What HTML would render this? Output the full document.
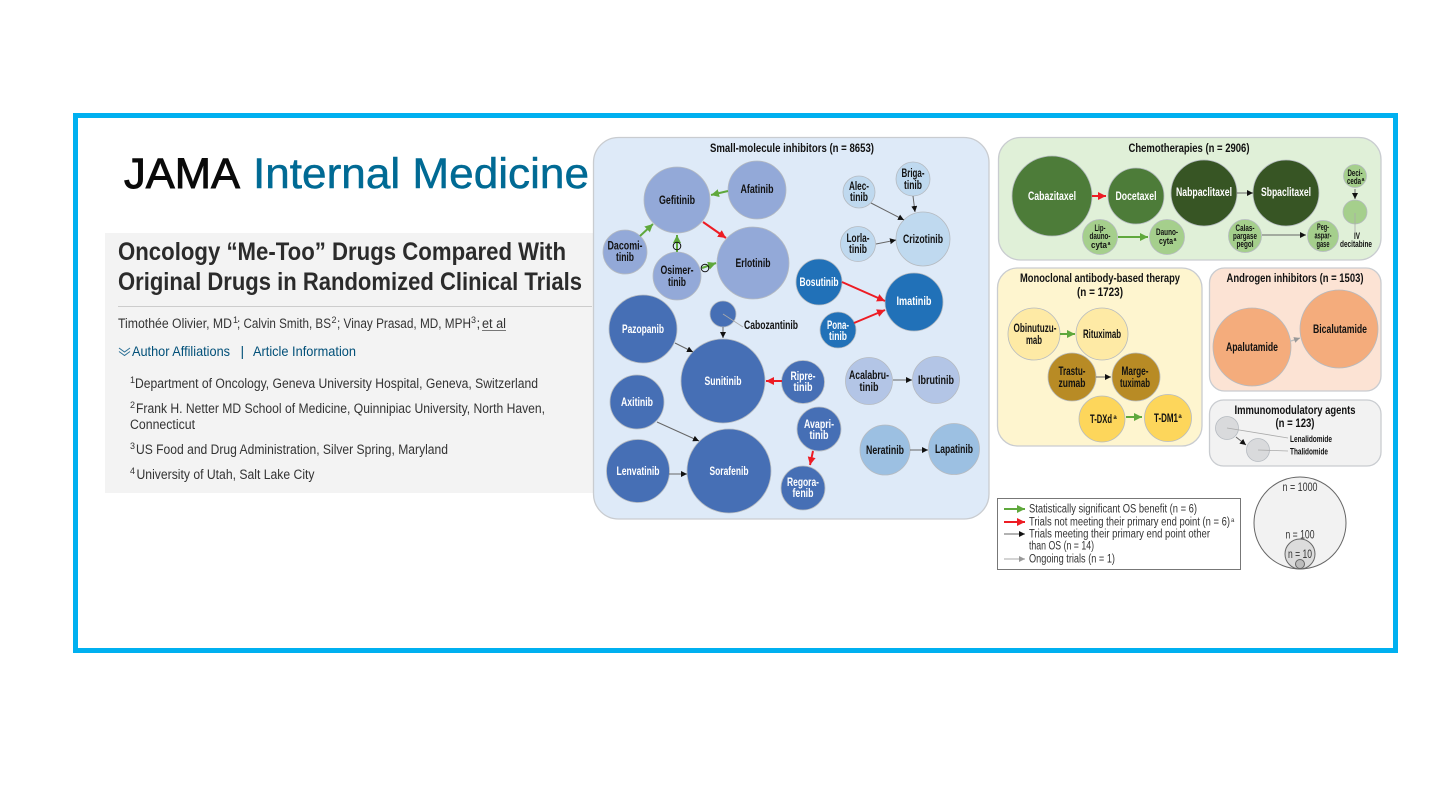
<!DOCTYPE html>
<html lang="en"><head><meta charset="utf-8"><title>Oncology Me-Too Drugs</title>
<style>
html,body{margin:0;padding:0;background:#fff;width:1456px;height:794px;overflow:hidden}
svg{display:block;font-family:"Liberation Sans",sans-serif}
.m{text-anchor:middle;font-weight:700;font-size:11.5px;fill:#111}
.w{text-anchor:middle;font-weight:700;font-size:11.5px;fill:#fff}
.s{text-anchor:middle;font-weight:700;font-size:9px;fill:#111}
.h{text-anchor:middle;font-weight:700;font-size:12px;fill:#111}
.l{font-size:11.5px;fill:#333}
.t{font-weight:700;font-size:25px;fill:#2b2b2b}
.b{font-size:13.500px;fill:#333}
.a{font-size:14px;fill:#004f78}
.p{stroke:#c9ccd0;stroke-width:1.3}
circle{stroke:#b5bac0;stroke-width:.8}
.g{stroke:#5fa83c;stroke-width:2;fill:none}
.r{stroke:#ed1c24;stroke-width:2;fill:none}
.k{stroke:#666;stroke-width:1;fill:none}
.y{stroke:#bbb;stroke-width:1.2;fill:none}
.ln{stroke:#aaa;stroke-width:.8;fill:none}
</style></head><body>
<svg width="1456" height="794" viewBox="0 0 1456 794" xmlns="http://www.w3.org/2000/svg">
<defs>
<marker id="G" markerUnits="userSpaceOnUse" markerWidth="10" markerHeight="10" refX="8" refY="4" orient="auto"><path d="M0 0L8 4L0 8z" fill="#5fa83c"/></marker>
<marker id="R" markerUnits="userSpaceOnUse" markerWidth="10" markerHeight="10" refX="8" refY="4" orient="auto"><path d="M0 0L8 4L0 8z" fill="#ed1c24"/></marker>
<marker id="K" markerUnits="userSpaceOnUse" markerWidth="10" markerHeight="10" refX="6" refY="3" orient="auto"><path d="M0 0L6 3L0 6z" fill="#111"/></marker>
<marker id="Y" markerUnits="userSpaceOnUse" markerWidth="10" markerHeight="10" refX="6" refY="3" orient="auto"><path d="M0 0L6 3L0 6z" fill="#999"/></marker>
</defs>
<rect width="1456" height="794" fill="#fff"/>
<rect x="75.5" y="115.5" width="1320" height="535" fill="#fff" stroke="#00b0f0" stroke-width="5"/>

<!-- left article -->
<text x="124" y="188" font-size="43" fill="#0a0a0a" stroke="#0a0a0a" stroke-width=".9" textLength="116" lengthAdjust="spacingAndGlyphs">JAMA</text>
<text x="253" y="188" font-size="43" fill="#006a94" stroke="#006a94" stroke-width=".5" textLength="336" lengthAdjust="spacingAndGlyphs">Internal Medicine</text>
<rect x="105" y="233" width="488" height="260" fill="#f3f3f3"/>
<text class="t" x="118" y="260" textLength="448" lengthAdjust="spacingAndGlyphs">Oncology “Me-Too” Drugs Compared With</text>
<text class="t" x="118" y="290" textLength="464" lengthAdjust="spacingAndGlyphs">Original Drugs in Randomized Clinical Trials</text>
<line x1="118" y1="306.5" x2="592" y2="306.5" stroke="#ccc"/>
<text class="b" x="118" y="328" textLength="114" lengthAdjust="spacingAndGlyphs">Timothée Olivier, MD</text>
<text class="b" x="233" y="323" style="font-size:9px">1</text>
<text class="b" x="237" y="328" textLength="94" lengthAdjust="spacingAndGlyphs">; Calvin Smith, BS</text>
<text class="b" x="331.500" y="323" style="font-size:9px">2</text>
<text class="b" x="337" y="328" textLength="134" lengthAdjust="spacingAndGlyphs">; Vinay Prasad, MD, MPH</text>
<text class="b" x="471" y="323" style="font-size:9px">3</text>
<text class="b" x="476.500" y="328">;</text>
<text class="b" x="482" y="328" textLength="24" lengthAdjust="spacingAndGlyphs">et al</text>
<line x1="482" y1="330.500" x2="506" y2="330.500" stroke="#777"/>
<path d="M119 348l5.500 4l5.500-4M119 351.500l5.500 4l5.500-4" fill="none" stroke="#2a6f95" stroke-width="1"/>
<text class="a" x="132" y="356" textLength="98" lengthAdjust="spacingAndGlyphs">Author Affiliations</text>
<text class="a" x="240.500" y="356">|</text>
<text class="a" x="253" y="356" textLength="103" lengthAdjust="spacingAndGlyphs">Article Information</text>
<text class="b" x="130" y="383" style="font-size:9px">1</text>
<text class="b" x="135" y="388" textLength="403" lengthAdjust="spacingAndGlyphs">Department of Oncology, Geneva University Hospital, Geneva, Switzerland</text>
<text class="b" x="130" y="408" style="font-size:9px">2</text>
<text class="b" x="136" y="413" textLength="409" lengthAdjust="spacingAndGlyphs">Frank H. Netter MD School of Medicine, Quinnipiac University, North Haven,</text>
<text class="b" x="130" y="429" textLength="65" lengthAdjust="spacingAndGlyphs">Connecticut</text>
<text class="b" x="130" y="449" style="font-size:9px">3</text>
<text class="b" x="136" y="454" textLength="312" lengthAdjust="spacingAndGlyphs">US Food and Drug Administration, Silver Spring, Maryland</text>
<text class="b" x="130" y="474" style="font-size:9px">4</text>
<text class="b" x="136.500" y="479" textLength="178" lengthAdjust="spacingAndGlyphs">University of Utah, Salt Lake City</text>

<!-- panels -->
<rect class="p" x="593.500" y="137.500" width="395.500" height="381.500" rx="25" fill="#deeaf8"/>
<rect class="p" x="998.500" y="137.500" width="382.500" height="122.500" rx="22" fill="#e0f0d8"/>
<rect class="p" x="997.500" y="268" width="204.500" height="178" rx="20" fill="#fef5cf"/>
<rect class="p" x="1209.500" y="268" width="171.500" height="123" rx="15" fill="#fce3d4"/>
<rect class="p" x="1209.500" y="400" width="171.500" height="66" rx="14" fill="#f2f2f2"/>

<text class="h" x="792" y="152" textLength="164" lengthAdjust="spacingAndGlyphs">Small-molecule inhibitors (n = 8653)</text>
<text class="h" x="1189" y="152" textLength="121" lengthAdjust="spacingAndGlyphs">Chemotherapies (n = 2906)</text>
<text class="h" x="1100" y="282" textLength="160" lengthAdjust="spacingAndGlyphs">Monoclonal antibody-based therapy</text>
<text class="h" x="1100" y="296" textLength="46" lengthAdjust="spacingAndGlyphs">(n = 1723)</text>
<text class="h" x="1295" y="282" textLength="137" lengthAdjust="spacingAndGlyphs">Androgen inhibitors (n = 1503)</text>
<text class="h" x="1295" y="414" textLength="121" lengthAdjust="spacingAndGlyphs">Immunomodulatory agents</text>
<text class="h" x="1295" y="427" textLength="39" lengthAdjust="spacingAndGlyphs">(n = 123)</text>

<!-- circles -->
<g fill="#93a9d8">
<circle cx="677" cy="200" r="33"/><circle cx="757" cy="190" r="29"/><circle cx="625" cy="252" r="22"/><circle cx="677" cy="276" r="24"/><circle cx="753" cy="263" r="36"/>
</g>
<g fill="#466fb5">
<circle cx="723" cy="314" r="13"/><circle cx="643" cy="329" r="34"/><circle cx="723" cy="381" r="42"/><circle cx="637" cy="402" r="27"/><circle cx="638" cy="471" r="31.500"/><circle cx="729" cy="471" r="42"/><circle cx="803" cy="382" r="21.500"/><circle cx="819" cy="429" r="22"/><circle cx="803" cy="488" r="22"/>
</g>
<g fill="#bfd9ef">
<circle cx="913" cy="179" r="17"/><circle cx="859" cy="192" r="16"/><circle cx="858" cy="244" r="17.500"/><circle cx="923" cy="239" r="27"/>
</g>
<g fill="#2171b8">
<circle cx="819" cy="282" r="23"/><circle cx="914" cy="302" r="29"/><circle cx="838" cy="330" r="18"/>
</g>
<g fill="#b3c5e6"><circle cx="869" cy="381" r="23.500"/><circle cx="936" cy="380" r="23.500"/></g>
<g fill="#9cc0e2"><circle cx="885" cy="450" r="25"/><circle cx="954" cy="449" r="25.500"/></g>
<g fill="#4d7c39"><circle cx="1052" cy="196" r="40"/><circle cx="1136" cy="196" r="28"/></g>
<g fill="#375524"><circle cx="1204" cy="193" r="33"/><circle cx="1286" cy="193" r="33"/></g>
<g fill="#a5cf8c"><circle cx="1100" cy="237" r="17.500"/><circle cx="1167" cy="237" r="17.500"/><circle cx="1245" cy="236" r="16.500"/><circle cx="1323" cy="236" r="15.500"/><circle cx="1355" cy="176" r="11.500"/><circle cx="1355" cy="212" r="12"/></g>
<g fill="#feeaa5"><circle cx="1034" cy="334" r="26"/><circle cx="1102" cy="334" r="26"/></g>
<g fill="#b88b25"><circle cx="1072" cy="377" r="24"/><circle cx="1136" cy="377" r="24"/></g>
<g fill="#fdd65b"><circle cx="1102" cy="419" r="23"/><circle cx="1168" cy="418" r="23.500"/></g>
<g fill="#f4ac7c"><circle cx="1252" cy="347" r="39"/><circle cx="1339" cy="329" r="39"/></g>
<g fill="#d9dadc"><circle cx="1227" cy="428" r="11.500"/><circle cx="1258" cy="450" r="11.500"/></g>
<circle cx="1300" cy="523" r="46" style="fill:#f2f2f2;stroke:#666;stroke-width:1"/>
<circle cx="1300" cy="554" r="15" style="fill:#dcdcdc;stroke:#666;stroke-width:1"/>
<circle cx="1300" cy="564" r="4.500" style="fill:#bdbdbd;stroke:#666;stroke-width:1"/>

<!-- connectors -->
<line class="g" x1="728" y1="191" x2="711" y2="195" marker-end="url(#G)"/>
<line class="g" x1="640" y1="236" x2="653" y2="224" marker-end="url(#G)"/>
<line class="r" x1="703" y1="222" x2="726" y2="238" marker-end="url(#R)"/>
<line class="g" x1="677" y1="252" x2="677" y2="235" marker-end="url(#G)"/>
<line class="g" x1="702" y1="268" x2="716" y2="263" marker-end="url(#G)"/>
<g fill="none" stroke="#111" stroke-width="1"><ellipse cx="677" cy="246" rx="3.800" ry="3.800"/><ellipse cx="705" cy="268" rx="3.800" ry="3.800"/></g>
<line class="k" x1="723" y1="327" x2="723" y2="338" marker-end="url(#K)"/>
<line class="ln" x1="723" y1="314" x2="743" y2="327"/>
<line class="k" x1="871" y1="203" x2="904" y2="220" marker-end="url(#K)"/>
<line class="k" x1="913" y1="196" x2="915" y2="212" marker-end="url(#K)"/>
<line class="k" x1="876" y1="244" x2="896" y2="240" marker-end="url(#K)"/>
<line class="r" x1="842" y1="282" x2="885" y2="301" marker-end="url(#R)"/>
<line class="r" x1="854" y1="323" x2="885" y2="310" marker-end="url(#R)"/>
<line class="k" x1="675" y1="343" x2="693" y2="352" marker-end="url(#K)"/>
<line class="k" x1="657" y1="422" x2="699" y2="441" marker-end="url(#K)"/>
<line class="k" x1="669" y1="474" x2="687" y2="474" marker-end="url(#K)"/>
<line class="r" x1="782" y1="381" x2="766" y2="381" marker-end="url(#R)"/>
<line class="r" x1="813" y1="451" x2="810" y2="465" marker-end="url(#R)"/>
<line class="k" x1="893" y1="380" x2="912" y2="380" marker-end="url(#K)"/>
<line class="k" x1="910" y1="450" x2="928" y2="450" marker-end="url(#K)"/>
<line class="r" x1="1092" y1="196" x2="1106" y2="196" marker-end="url(#R)"/>
<line class="k" x1="1237" y1="193" x2="1253" y2="193" marker-end="url(#K)"/>
<line class="g" x1="1118" y1="237" x2="1148" y2="237" marker-end="url(#G)"/>
<line class="k" x1="1262" y1="235" x2="1306" y2="235" marker-end="url(#K)"/>
<line class="k" x1="1355" y1="189" x2="1355" y2="199" marker-end="url(#K)"/>
<line class="ln" x1="1355" y1="213" x2="1355" y2="232"/>
<line class="g" x1="1060" y1="334" x2="1075" y2="334" marker-end="url(#G)"/>
<line class="k" x1="1096" y1="377" x2="1111" y2="377" marker-end="url(#K)"/>
<line class="g" x1="1126" y1="417" x2="1142" y2="417" marker-end="url(#G)"/>
<line class="y" x1="1291" y1="341" x2="1300" y2="338" marker-end="url(#Y)"/>
<line class="k" x1="1236" y1="437" x2="1246" y2="445" marker-end="url(#K)"/>
<line class="ln" x1="1227" y1="428" x2="1288" y2="438"/>
<line class="ln" x1="1258" y1="450" x2="1288" y2="451"/>

<!-- labels -->
<text class="m" x="677" y="204" textLength="36" lengthAdjust="spacingAndGlyphs">Gefitinib</text>
<text class="m" x="757" y="193" textLength="33" lengthAdjust="spacingAndGlyphs">Afatinib</text>
<text class="m" x="625" y="249.500" textLength="35" lengthAdjust="spacingAndGlyphs">Dacomi-</text>
<text class="m" x="625" y="261" textLength="18" lengthAdjust="spacingAndGlyphs">tinib</text>
<text class="m" x="677" y="274" textLength="33" lengthAdjust="spacingAndGlyphs">Osimer-</text>
<text class="m" x="677" y="286" textLength="18" lengthAdjust="spacingAndGlyphs">tinib</text>
<text class="m" x="753" y="267" textLength="35" lengthAdjust="spacingAndGlyphs">Erlotinib</text>
<text class="m" x="771" y="329" textLength="54" lengthAdjust="spacingAndGlyphs">Cabozantinib</text>
<text class="m" x="913" y="177" textLength="23" lengthAdjust="spacingAndGlyphs">Briga-</text>
<text class="m" x="913" y="189" textLength="18" lengthAdjust="spacingAndGlyphs">tinib</text>
<text class="m" x="859" y="190" textLength="20" lengthAdjust="spacingAndGlyphs">Alec-</text>
<text class="m" x="859" y="201" textLength="18" lengthAdjust="spacingAndGlyphs">tinib</text>
<text class="m" x="858" y="242" textLength="23" lengthAdjust="spacingAndGlyphs">Lorla-</text>
<text class="m" x="858" y="253" textLength="18" lengthAdjust="spacingAndGlyphs">tinib</text>
<text class="m" x="923" y="243" textLength="40" lengthAdjust="spacingAndGlyphs">Crizotinib</text>
<text class="w" x="819" y="286" textLength="39" lengthAdjust="spacingAndGlyphs">Bosutinib</text>
<text class="w" x="914" y="305" textLength="35" lengthAdjust="spacingAndGlyphs">Imatinib</text>
<text class="w" x="838" y="329" textLength="22" lengthAdjust="spacingAndGlyphs">Pona-</text>
<text class="w" x="838" y="340" textLength="18" lengthAdjust="spacingAndGlyphs">tinib</text>
<text class="w" x="643" y="333" textLength="42" lengthAdjust="spacingAndGlyphs">Pazopanib</text>
<text class="w" x="723" y="385" textLength="37" lengthAdjust="spacingAndGlyphs">Sunitinib</text>
<text class="w" x="637" y="406" textLength="32" lengthAdjust="spacingAndGlyphs">Axitinib</text>
<text class="w" x="638" y="475" textLength="43" lengthAdjust="spacingAndGlyphs">Lenvatinib</text>
<text class="w" x="729" y="475" textLength="39" lengthAdjust="spacingAndGlyphs">Sorafenib</text>
<text class="w" x="803" y="380" textLength="25" lengthAdjust="spacingAndGlyphs">Ripre-</text>
<text class="w" x="803" y="391" textLength="19" lengthAdjust="spacingAndGlyphs">tinib</text>
<text class="w" x="819" y="428" textLength="30" lengthAdjust="spacingAndGlyphs">Avapri-</text>
<text class="w" x="819" y="439" textLength="19" lengthAdjust="spacingAndGlyphs">tinib</text>
<text class="w" x="803" y="486" textLength="32" lengthAdjust="spacingAndGlyphs">Regora-</text>
<text class="w" x="803" y="497" textLength="21" lengthAdjust="spacingAndGlyphs">fenib</text>
<text class="m" x="869" y="379" textLength="40" lengthAdjust="spacingAndGlyphs">Acalabru-</text>
<text class="m" x="869" y="391" textLength="19" lengthAdjust="spacingAndGlyphs">tinib</text>
<text class="m" x="936" y="384" textLength="36" lengthAdjust="spacingAndGlyphs">Ibrutinib</text>
<text class="m" x="885" y="454" textLength="38" lengthAdjust="spacingAndGlyphs">Neratinib</text>
<text class="m" x="954" y="453" textLength="38" lengthAdjust="spacingAndGlyphs">Lapatinib</text>

<text class="w" x="1052" y="200" textLength="48" lengthAdjust="spacingAndGlyphs">Cabazitaxel</text>
<text class="w" x="1136" y="200" textLength="41" lengthAdjust="spacingAndGlyphs">Docetaxel</text>
<text class="w" x="1204" y="196" textLength="56" lengthAdjust="spacingAndGlyphs">Nabpaclitaxel</text>
<text class="w" x="1286" y="196" textLength="50" lengthAdjust="spacingAndGlyphs">Sbpaclitaxel</text>
<text class="s" x="1100" y="231" textLength="11" lengthAdjust="spacingAndGlyphs">Lip-</text>
<text class="s" x="1100" y="239" textLength="21" lengthAdjust="spacingAndGlyphs">dauno-</text>
<text class="s" x="1099" y="248" textLength="16" lengthAdjust="spacingAndGlyphs">cyta</text>
<text class="s" x="1109" y="245" style="font-size:5px">a</text>
<text class="s" x="1167" y="235" textLength="22" lengthAdjust="spacingAndGlyphs">Dauno-</text>
<text class="s" x="1166" y="244" textLength="14" lengthAdjust="spacingAndGlyphs">cyta</text>
<text class="s" x="1175" y="241" style="font-size:5px">a</text>
<text class="s" x="1245" y="231" textLength="19" lengthAdjust="spacingAndGlyphs">Calas-</text>
<text class="s" x="1245" y="239" textLength="24" lengthAdjust="spacingAndGlyphs">pargase</text>
<text class="s" x="1245" y="247" textLength="17" lengthAdjust="spacingAndGlyphs">pegol</text>
<text class="s" x="1323" y="230" textLength="12" lengthAdjust="spacingAndGlyphs">Peg-</text>
<text class="s" x="1323" y="238.500" textLength="17" lengthAdjust="spacingAndGlyphs">aspar-</text>
<text class="s" x="1323" y="247" textLength="13" lengthAdjust="spacingAndGlyphs">gase</text>
<text class="s" x="1355" y="176" textLength="15" lengthAdjust="spacingAndGlyphs">Deci-</text>
<text class="s" x="1354" y="184" textLength="14" lengthAdjust="spacingAndGlyphs">ceda</text>
<text class="s" x="1363" y="181" style="font-size:5px">a</text>
<text class="s" x="1357" y="239" textLength="6" lengthAdjust="spacingAndGlyphs">IV</text>
<text class="s" x="1356" y="247" textLength="32" lengthAdjust="spacingAndGlyphs">decitabine</text>

<text class="m" x="1035" y="332" textLength="43" lengthAdjust="spacingAndGlyphs">Obinutuzu-</text>
<text class="m" x="1034" y="344" textLength="16" lengthAdjust="spacingAndGlyphs">mab</text>
<text class="m" x="1102" y="338" textLength="38" lengthAdjust="spacingAndGlyphs">Rituximab</text>
<text class="m" x="1072" y="375" textLength="27" lengthAdjust="spacingAndGlyphs">Trastu-</text>
<text class="m" x="1072" y="387" textLength="27" lengthAdjust="spacingAndGlyphs">zumab</text>
<text class="m" x="1135" y="375" textLength="27" lengthAdjust="spacingAndGlyphs">Marge-</text>
<text class="m" x="1135" y="387" textLength="30" lengthAdjust="spacingAndGlyphs">tuximab</text>
<text class="m" x="1101" y="423" textLength="22" lengthAdjust="spacingAndGlyphs">T-DXd</text>
<text class="m" x="1115" y="419" style="font-size:6px">a</text>
<text class="m" x="1166" y="422" textLength="24" lengthAdjust="spacingAndGlyphs">T-DM1</text>
<text class="m" x="1180" y="418" style="font-size:6px">a</text>
<text class="m" x="1252" y="351" textLength="52" lengthAdjust="spacingAndGlyphs">Apalutamide</text>
<text class="m" x="1340" y="333" textLength="54" lengthAdjust="spacingAndGlyphs">Bicalutamide</text>
<text class="s" x="1311" y="442" textLength="42" lengthAdjust="spacingAndGlyphs">Lenalidomide</text>
<text class="s" x="1309" y="454.500" textLength="38" lengthAdjust="spacingAndGlyphs">Thalidomide</text>

<!-- legend -->
<rect x="997.500" y="498.500" width="243" height="71" fill="#fff" stroke="#777" stroke-width="1"/>
<line class="g" x1="1004" y1="509" x2="1025" y2="509" marker-end="url(#G)"/>
<line class="r" x1="1004" y1="522" x2="1025" y2="522" marker-end="url(#R)"/>
<line class="k" x1="1004" y1="534" x2="1025" y2="534" marker-end="url(#K)"/>
<line class="y" x1="1004" y1="559" x2="1025" y2="559" marker-end="url(#Y)"/>
<text class="l" x="1029" y="512.500" textLength="168" lengthAdjust="spacingAndGlyphs">Statistically significant OS benefit (n = 6)</text>
<text class="l" x="1029" y="525.500" textLength="201" lengthAdjust="spacingAndGlyphs">Trials not meeting their primary end point (n = 6)</text>
<text class="l" x="1231" y="522" style="font-size:6px">a</text>
<text class="l" x="1029" y="537.500" textLength="181" lengthAdjust="spacingAndGlyphs">Trials meeting their primary end point other</text>
<text class="l" x="1029" y="549.500" textLength="65" lengthAdjust="spacingAndGlyphs">than OS (n = 14)</text>
<text class="l" x="1029" y="562.500" textLength="86" lengthAdjust="spacingAndGlyphs">Ongoing trials (n = 1)</text>
<text class="l" x="1300" y="491" text-anchor="middle" textLength="35" lengthAdjust="spacingAndGlyphs">n = 1000</text>
<text class="l" x="1300" y="538.500" text-anchor="middle" textLength="29" lengthAdjust="spacingAndGlyphs">n = 100</text>
<text class="l" x="1300" y="558" text-anchor="middle" textLength="24" lengthAdjust="spacingAndGlyphs">n = 10</text>
</svg>
</body></html>
